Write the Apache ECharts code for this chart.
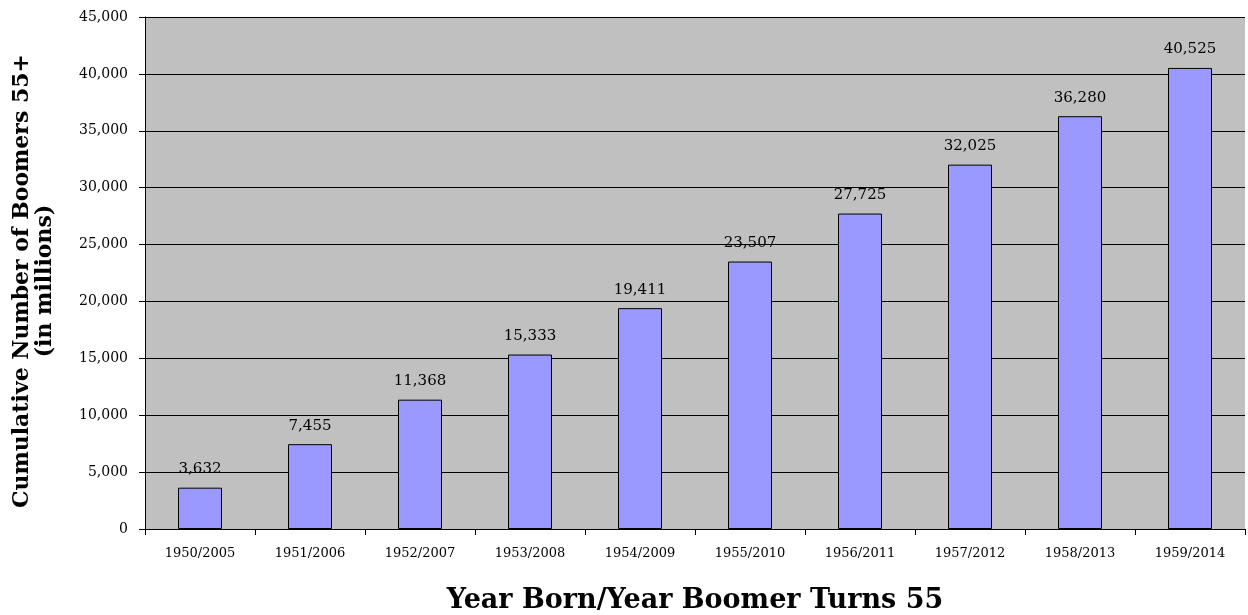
<!DOCTYPE html>
<html>
<head>
<meta charset="utf-8">
<script src="https://cdn.jsdelivr.net/npm/echarts@6/dist/echarts.min.js"></script>
<style>
  html, body { margin: 0; padding: 0; background: #fff; }
  #chart { width: 1248px; height: 615px; }
</style>
</head>
<body>
<div id="chart"></div>
<script>
// categories: year born / year boomer turns 55
const categories = ['1950/2005', '1951/2006', '1952/2007', '1953/2008', '1954/2009',
  '1955/2010', '1956/2011', '1957/2012', '1958/2013', '1959/2014']
// cumulative number of boomers 55+
const boomers = [3632, 7455, 11368, 15333, 19411, 23507, 27725, 32025, 36280, 40525]

const serif = '"DejaVu Serif", "Liberation Serif", serif'
const fmt = v => v.toLocaleString('en-US')

const chart = echarts.init(document.getElementById('chart'))
const option = {
  animation: false,
  grid: {
    left: 145,
    right: 3,
    top: 17,
    bottom: 86,
    outerBoundsMode: 'none',
    containLabel: false,
    show: true,
    backgroundColor: '#C0C0C0',
    borderWidth: 0
  },
  xAxis: {
    type: 'category',
    data: categories,
    name: 'Year Born/Year Boomer Turns 55',
    nameLocation: 'middle',
    nameGap: 58,
    nameTextStyle: { fontFamily: serif, fontSize: 27, fontWeight: 'bold', color: '#000' },
    axisLine: { lineStyle: { color: '#000', width: 1 } },
    axisTick: { show: true, length: 6, lineStyle: { color: '#000' } },
    axisLabel: { fontFamily: serif, fontSize: 13, color: '#000', margin: 18 }
  },
  yAxis: {
    type: 'value',
    min: 0,
    max: 45000,
    interval: 5000,
    name: 'Cumulative Number of Boomers 55+\n(in millions)',
    nameLocation: 'middle',
    nameRotate: 90,
    nameGap: 88,
    // padding nudges the rotated title down a little
    nameTextStyle: { fontFamily: serif, fontSize: 22, fontWeight: 'bold', color: '#000', lineHeight: 23, padding: [0, 16, 0, 0] },
    axisLine: { show: true, lineStyle: { color: '#000', width: 1 } },
    axisTick: { show: true, length: 6, lineStyle: { color: '#000' } },
    axisLabel: { fontFamily: serif, fontSize: 14, color: '#000', margin: 17, formatter: fmt },
    splitLine: { show: true, lineStyle: { color: '#000', width: 1 } }
  },
  series: [
    {
      type: 'bar',
      data: boomers,
      barWidth: '40%',
      itemStyle: { color: '#9999FF', borderColor: '#000', borderWidth: 1 },
      label: {
        show: true,
        position: 'top',
        distance: 11,
        fontFamily: serif,
        fontSize: 15,
        color: '#000',
        formatter: p => fmt(p.value)
      }
    }
  ]
}
chart.setOption(option)
</script>
</body>
</html>
